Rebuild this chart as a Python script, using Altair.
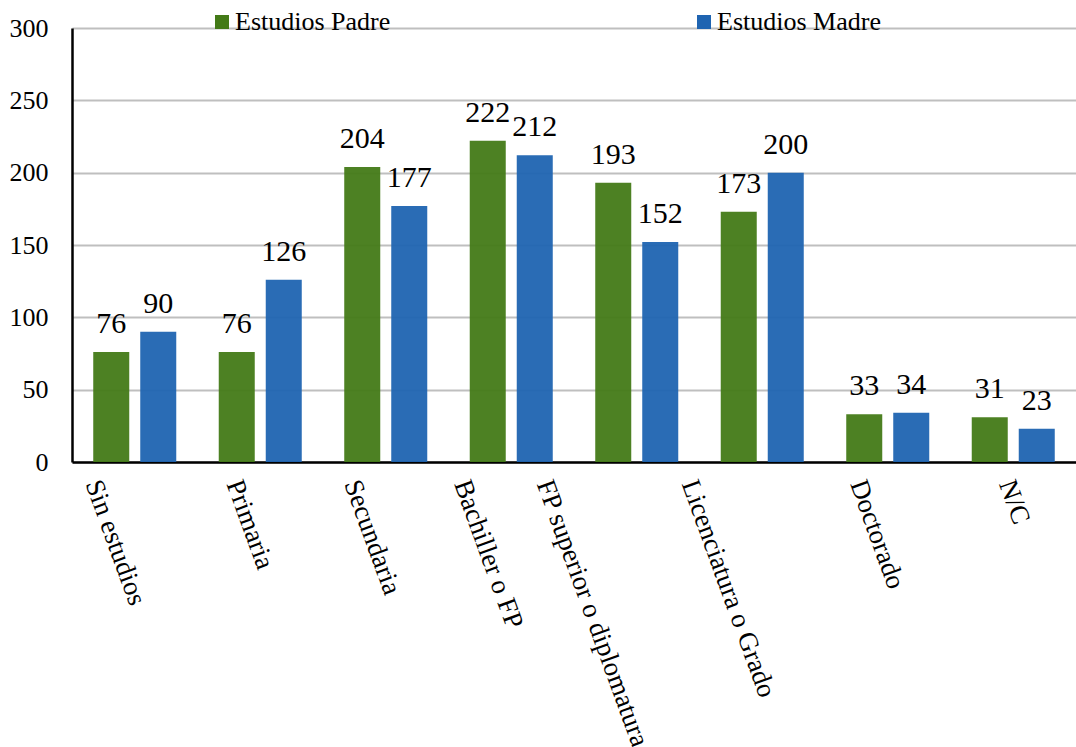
import altair as alt
import pandas as pd

categories = ["Sin estudios", "Primaria", "Secundaria", "Bachiller o FP",
              "FP superior o diplomatura", "Licenciatura o Grado", "Doctorado", "N/C"]
series = ["Estudios Padre", "Estudios Madre"]
padre = [76, 76, 204, 222, 193, 173, 33, 31]
madre = [90, 126, 177, 212, 152, 200, 34, 23]
colors = ["#437a17", "#1f64b1"]

rows = []
for c, p, m in zip(categories, padre, madre):
    rows.append({"cat": c, "serie": series[0], "valor": p})
    rows.append({"cat": c, "serie": series[1], "valor": m})
df = pd.DataFrame(rows)

FONT = "Liberation Serif"

x = alt.X("cat:N", sort=categories, title=None,
          scale=alt.Scale(paddingInner=0, paddingOuter=0),
          axis=alt.Axis(labelAngle=70, labelAlign="left", labelBaseline="top",
                        labelFont=FONT, labelFontSize=27, labelColor="black",
                        labelPadding=14, ticks=False, domainColor="black",
                        domainWidth=2.5, labelLimit=400,
                        labelOffset=alt.ExprRef("-3.9*length(datum.label) + 17")))
xo = alt.XOffset("serie:N", sort=series,
                 scale=alt.Scale(paddingInner=0.234, paddingOuter=0.452))
y = alt.Y("valor:Q", title=None,
          scale=alt.Scale(domain=[0, 300], nice=False),
          axis=alt.Axis(values=[0, 50, 100, 150, 200, 250, 300], ticks=False,
                        labelFont=FONT, labelFontSize=26, labelColor="black",
                        labelPadding=24, domainColor="black", domainWidth=2.5,
                        gridColor="#bfbfbf", gridWidth=2))
color = alt.Color("serie:N", sort=series,
                  scale=alt.Scale(domain=series, range=colors),
                  legend=alt.Legend(title=None, orient="none", legendX=137, legendY=-19,
                                    direction="horizontal", columnPadding=300,
                                    symbolType="square", symbolSize=196,
                                    symbolStrokeWidth=0, symbolOpacity=1,
                                    labelFont=FONT, labelFontSize=26, labelColor="black",
                                    labelOffset=0, labelLimit=400))

bars = alt.Chart(df).mark_bar(opacity=0.95).encode(x=x, xOffset=xo, y=y, color=color)
texts = alt.Chart(df).mark_text(font=FONT, fontSize=30, baseline="alphabetic",
                                dy=-19, color="black").encode(
    x=x, xOffset=xo, y=y, text="valor:Q")

chart = alt.layer(bars, texts).properties(
    width=1004, height=434,
    autosize=alt.AutoSizeParams(type="none"),
    padding={"left": 72, "top": 28, "right": 0, "bottom": 285},
).configure_view(stroke=None)

chart.save("out.html", embed_options={"renderer": "svg", "actions": False})
